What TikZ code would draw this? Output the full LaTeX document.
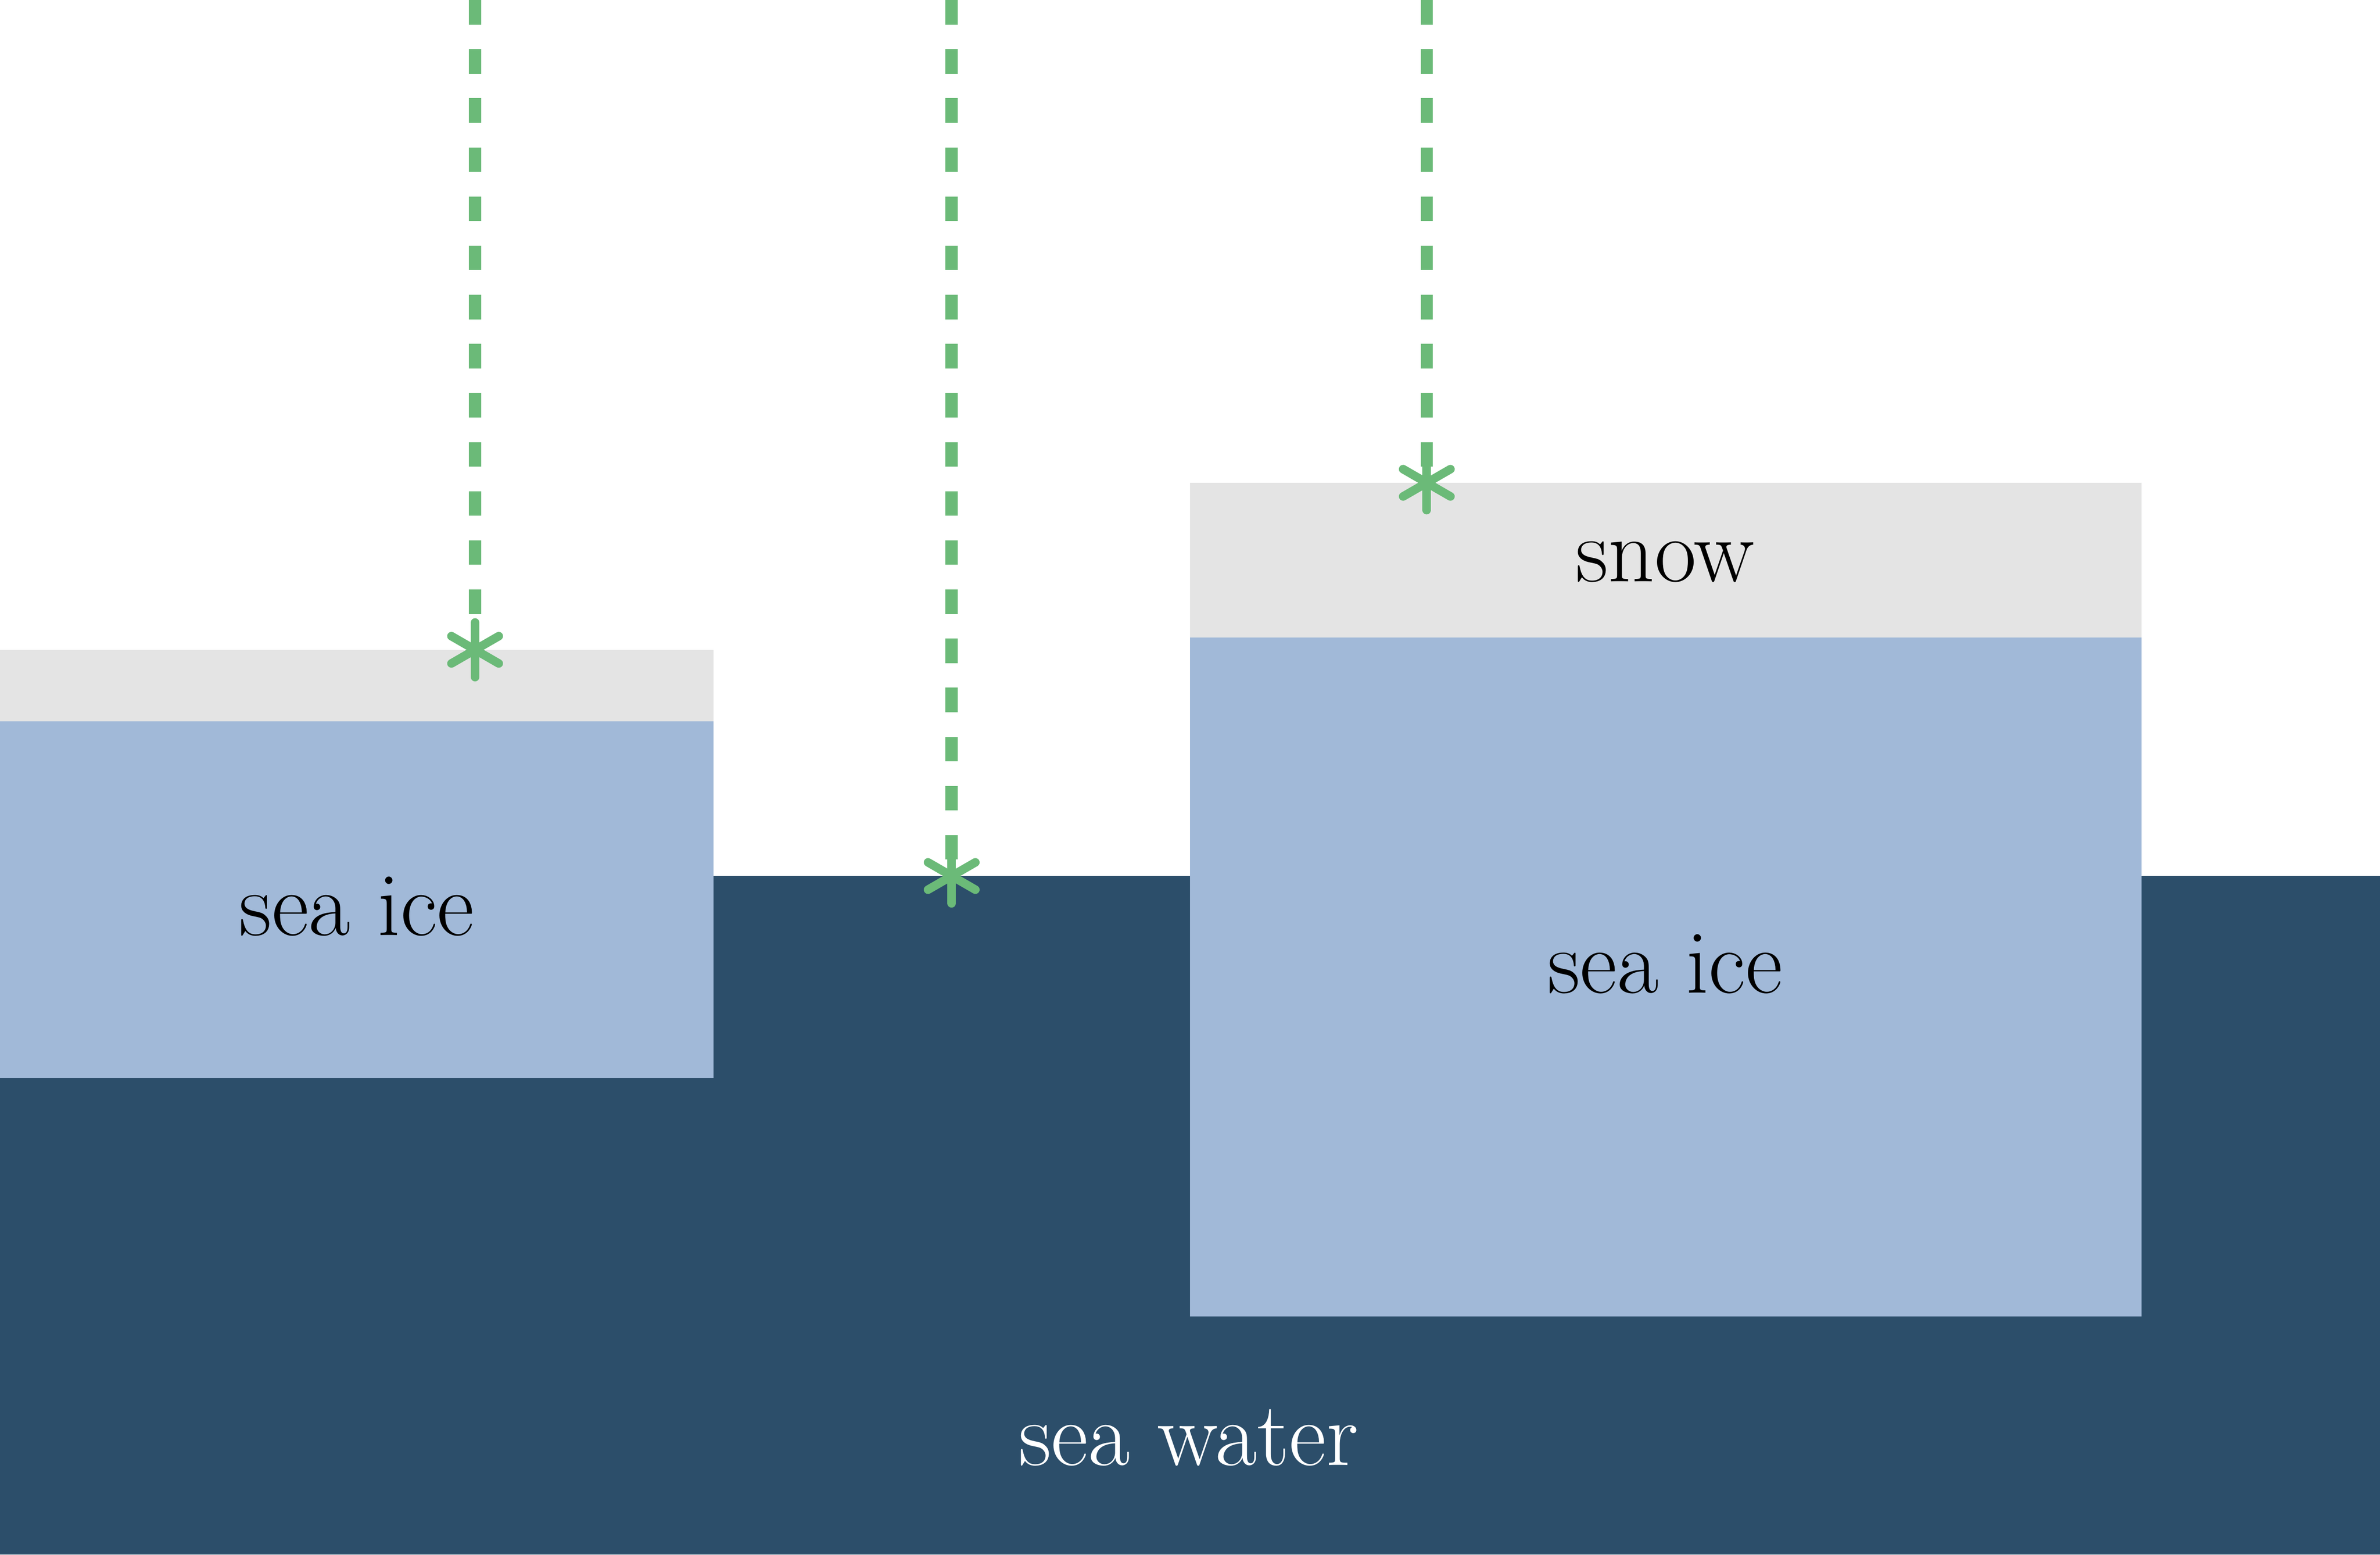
\documentclass[tikz,border=0pt]{standalone}
\definecolor{water}{RGB}{44,78,106}
\definecolor{ice}{RGB}{161,185,216}
\definecolor{snow}{RGB}{228,228,228}
\definecolor{ray}{RGB}{107,186,120}
\tikzset{
  lbl/.style={font=\fontsize{17}{20}\selectfont},
  rayline/.style={ray,line width=2.3pt,dash pattern=on 4.6pt off 4.6pt},
  ast/.style={ray,line width=1.6pt,line cap=round}
}
\newcommand{\myast}[1]{%
  \draw[ast] ([yshift=0.18cm]#1) -- ([yshift=-0.18cm]#1);
  \draw[ast] ([shift={(150:0.18cm)}]#1) -- ([shift={(-30:0.18cm)}]#1);
  \draw[ast] ([shift={(30:0.18cm)}]#1) -- ([shift={(210:0.18cm)}]#1);}
\begin{document}
\begin{tikzpicture}[x=0.01cm,y=-0.01cm]
\useasboundingbox (0,0) rectangle (1568,1024);
\fill[water] (0,577) rectangle (1568,1024);
\fill[ice] (0,475) rectangle (470,710);
\fill[snow] (0,428) rectangle (470,475);
\fill[ice] (784,420) rectangle (1411,867);
\fill[snow] (784,318) rectangle (1411,420);
\node[lbl] (ice1) at (235,597) {sea ice};
\node[lbl] (ice2) at (1097,635) {sea ice};
\node[lbl] (snow) at (1097,370) {snow};
\node[lbl,text=white] (water) at (783,947) {sea water};
\coordinate (t1) at (313,0); \coordinate (h1) at (313,428);
\coordinate (t2) at (627,0); \coordinate (h2) at (627,577);
\coordinate (t3) at (940,0); \coordinate (h3) at (940,318);
\draw[rayline] (t1) -- ([yshift=0.1cm]h1);
\draw[rayline] (t2) -- ([yshift=0.1cm]h2);
\draw[rayline] (t3) -- ([yshift=0.1cm]h3);
\myast{h1}\myast{h2}\myast{h3}
\end{tikzpicture}
\end{document}
